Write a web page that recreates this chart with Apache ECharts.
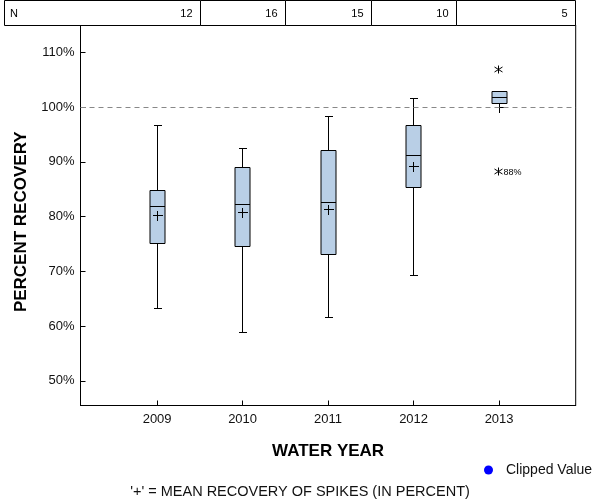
<!DOCTYPE html>
<html>
<head>
<meta charset="utf-8">
<script src="https://cdn.jsdelivr.net/npm/echarts@6/dist/echarts.min.js"></script>
<style>html,body{margin:0;padding:0;background:#fff;}#chart{width:600px;height:500px;}</style>
</head>
<body>
<div id="chart"></div>
<script>
// ---- data ----
const years        = [2009, 2010, 2011, 2012, 2013];
const nCounts      = [12, 16, 15, 10, 5];
const whiskerLow   = [63.3, 58.9, 61.6, 69.3, 100.8];
const q1Values     = [75.2, 74.6, 73.2, 85.4, 100.8];
const medianValues = [81.9, 82.3, 82.7, 91.25, 101.85];
const q3Values     = [84.85, 89.1, 92.2, 96.7, 102.9];
const whiskerHigh  = [96.8, 92.6, 98.4, 101.6, 102.9];
const meanValues   = [80.3, 80.8, 81.4, 89.2, 100.1];
const outlierYears  = [2013, 2013];
const outlierValues = [107.0, 88.4];
const outlierLabels = ['', '88%'];
const yTicks = [50, 60, 70, 80, 90, 100, 110];
const referenceLine = 100;

// ---- axis ranges ----
const X_MIN = 2008.104, X_MAX = 2013.896;
const Y_MIN = 45.5, Y_MAX = 115;

const boxData = years.map((y, i) => [y, whiskerLow[i], q1Values[i], medianValues[i], q3Values[i], whiskerHigh[i], meanValues[i]]);
const tableData = years.map((y, i) => [y, nCounts[i]]);
const outlierData = outlierYears.map((y, i) => [y, outlierValues[i], outlierLabels[i]]);

const crisp = v => Math.round(v) + 0.5;
const LINE = { stroke: '#000', lineWidth: 1 };

function renderBox(params, api) {
  const x = api.value(0);
  const lo = api.coord([x, api.value(1)]);
  const q1 = api.coord([x, api.value(2)]);
  const md = api.coord([x, api.value(3)]);
  const q3 = api.coord([x, api.value(4)]);
  const hi = api.coord([x, api.value(5)]);
  const mn = api.coord([x, api.value(6)]);
  const cx = crisp(lo[0] - 0.5);
  const hw = 7.5, cw = 3.5, pw = 4.5;
  const yLo = crisp(lo[1]), yQ1 = crisp(q1[1]), yMd = crisp(md[1]), yQ3 = crisp(q3[1]), yHi = crisp(hi[1]), yMn = crisp(mn[1]);
  const children = [];
  const line = (x1, y1, x2, y2) => children.push({ type: 'line', shape: { x1, y1, x2, y2 }, style: Object.assign({}, LINE) });
  line(cx, yLo, cx, yQ1);
  line(cx, yQ3, cx, yHi);
  line(cx - cw, yLo, cx + cw + 1, yLo);
  line(cx - cw, yHi, cx + cw + 1, yHi);
  children.push({ type: 'rect', shape: { x: cx - hw, y: yQ3, width: hw * 2, height: yQ1 - yQ3 },
    style: { fill: '#b9cfe6', stroke: '#000', lineWidth: 1 } });
  line(cx - hw, yMd, cx + hw, yMd);
  line(cx - pw, yMn, cx + pw + 1, yMn);
  line(cx, yMn - pw, cx, yMn + pw + 1);
  return { type: 'group', children };
}

function renderTable(params, api) {
  const i = params.dataIndex;
  const x = api.value(0);
  const top = api.coord([X_MIN, Y_MAX]);
  const bottomY = crisp(top[1] - 0.5);
  const left = i === 0 ? 4.5 : crisp(api.coord([x - 0.5, Y_MAX])[0]);
  const right = i === years.length - 1 ? crisp(api.coord([X_MAX, Y_MAX])[0] - 0.5) : crisp(api.coord([x + 0.5, Y_MAX])[0]);
  const font = '11px "Liberation Sans", Arial, sans-serif';
  const children = [
    { type: 'rect', shape: { x: left, y: 0.5, width: right - left, height: bottomY - 0.5 },
      style: { fill: '#fff', stroke: '#000', lineWidth: 1 } },
    { type: 'text', style: { x: right - 8, y: (bottomY + 0.5) / 2 + 1, text: String(api.value(1)),
      align: 'right', verticalAlign: 'middle', fill: '#000', font } }
  ];
  if (i === 0) {
    children.push({ type: 'text', style: { x: 10, y: (bottomY + 0.5) / 2 + 1, text: 'N',
      align: 'left', verticalAlign: 'middle', fill: '#000', font } });
  }
  return { type: 'group', children };
}

function renderOutlier(params, api) {
  const p = api.coord([api.value(0), api.value(1)]);
  const cx = crisp(p[0] - 1.5), cy = crisp(p[1]);
  const label = outlierData[params.dataIndex][2];
  const children = [
    { type: 'line', shape: { x1: cx, y1: cy - 4, x2: cx, y2: cy + 4 }, style: Object.assign({}, LINE) },
    { type: 'line', shape: { x1: cx - 4, y1: cy - 2.5, x2: cx + 4, y2: cy + 2.5 }, style: Object.assign({}, LINE) },
    { type: 'line', shape: { x1: cx - 4, y1: cy + 2.5, x2: cx + 4, y2: cy - 2.5 }, style: Object.assign({}, LINE) }
  ];
  if (label) {
    children.push({ type: 'text', style: { x: cx + 5, y: cy + 1, text: label, align: 'left', verticalAlign: 'middle',
      fill: '#000', font: '9px "Liberation Sans", Arial, sans-serif' } });
  }
  return { type: 'group', children };
}

const chart = echarts.init(document.getElementById('chart'), null, { renderer: 'canvas' });
const axisFont = { fontFamily: '"Liberation Sans", Arial, sans-serif' };
chart.setOption({
  animation: false,
  backgroundColor: '#fff',
  grid: { left: 80.5, right: 24.3, top: 25, bottom: 94.5, show: true, borderColor: '#000', borderWidth: 1,
          backgroundColor: 'transparent', containLabel: false, outerBoundsMode: 'none' },
  xAxis: {
    type: 'value', min: X_MIN, max: X_MAX,
    name: 'WATER YEAR', nameLocation: 'middle', nameGap: 37,
    nameTextStyle: Object.assign({ fontSize: 17, fontWeight: 'bold', color: '#000' }, axisFont),
    axisLine: { show: true, lineStyle: { color: '#000', width: 1 } },
    axisTick: { show: true, inside: true, length: 5, lineStyle: { color: '#000' }, customValues: years },
    axisLabel: Object.assign({ show: true, color: '#111', fontSize: 13, margin: 7, customValues: years,
      formatter: v => String(Math.round(v)) }, axisFont),
    splitLine: { show: false }
  },
  yAxis: {
    type: 'value', min: Y_MIN, max: Y_MAX,
    name: 'PERCENT RECOVERY', nameLocation: 'middle', nameGap: 51,
    nameTextStyle: Object.assign({ fontSize: 17, fontWeight: 'bold', color: '#000', padding: [0, 13, 0, 0] }, axisFont),
    axisLine: { show: true, lineStyle: { color: '#000', width: 1 } },
    axisTick: { show: true, inside: true, length: 5, lineStyle: { color: '#000' }, customValues: yTicks },
    axisLabel: Object.assign({ show: true, color: '#111', fontSize: 13, margin: 6, customValues: yTicks,
      formatter: v => Math.round(v) + '%' }, axisFont),
    splitLine: { show: false }
  },
  legend: {
    data: [{ name: 'Clipped Value', icon: 'circle', itemStyle: { color: '#0000ff', opacity: 1 } }],
    left: 479, top: 458, itemWidth: 9, itemHeight: 9,
    textStyle: Object.assign({ fontSize: 14, color: '#111', padding: [0, 0, 0, 8] }, axisFont),
    selectedMode: false
  },
  graphic: [
    { type: 'text', left: 'center', top: 484, style: { text: "'+' = MEAN RECOVERY OF SPIKES (IN PERCENT)",
      fill: '#111', font: '14.5px "Liberation Sans", Arial, sans-serif' } }
  ],
  series: [
    {
      type: 'custom', name: 'ref', renderItem: () => ({ type: 'group', children: [] }), data: [],
      markLine: { silent: true, symbol: 'none', label: { show: false },
        lineStyle: { color: '#888', type: [5, 4], width: 1 }, data: [{ yAxis: referenceLine }] }
    },
    { type: 'custom', name: 'box', renderItem: renderBox, data: boxData, encode: { x: 0, y: [1, 2, 3, 4, 5, 6] }, z: 3 },
    { type: 'custom', name: 'outliers', renderItem: renderOutlier, data: outlierData, encode: { x: 0, y: 1 }, z: 3 },
    { type: 'custom', name: 'N', renderItem: renderTable, data: tableData, encode: { x: 0 }, clip: false, z: 5 },
    { type: 'scatter', name: 'Clipped Value', data: [], itemStyle: { color: '#0000ff', opacity: 1 } }
  ]
});
</script>
</body>
</html>
